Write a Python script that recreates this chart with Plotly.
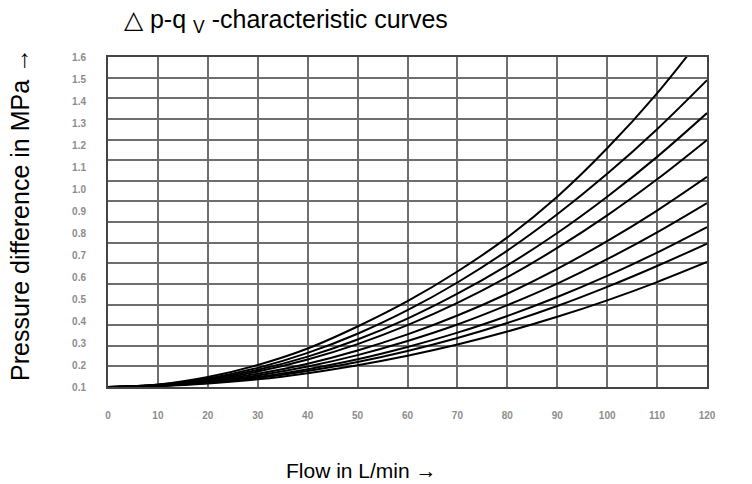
import plotly.graph_objects as go

# Flow in L/min
flow = [0, 10, 20, 30, 40, 50, 60, 70, 80, 90, 100, 110, 120]

# Pressure difference in MPa (curve label -> values)
curve_9 = [0.10, 0.111, 0.145, 0.200, 0.275, 0.375, 0.490, 0.625, 0.780, 0.965, 1.185, 1.435, 1.720]
curve_8 = [0.10, 0.110, 0.139, 0.187, 0.255, 0.342, 0.449, 0.575, 0.720, 0.885, 1.069, 1.272, 1.495]
curve_7 = [0.10, 0.109, 0.135, 0.178, 0.238, 0.316, 0.411, 0.524, 0.653, 0.800, 0.965, 1.146, 1.345]
curve_6 = [0.10, 0.108, 0.131, 0.170, 0.225, 0.295, 0.381, 0.482, 0.599, 0.732, 0.880, 1.044, 1.223]
curve_5 = [0.10, 0.107, 0.127, 0.160, 0.206, 0.266, 0.339, 0.425, 0.524, 0.637, 0.763, 0.902, 1.055]
curve_4 = [0.10, 0.106, 0.123, 0.152, 0.193, 0.245, 0.309, 0.384, 0.472, 0.570, 0.681, 0.803, 0.936]
curve_3 = [0.10, 0.105, 0.120, 0.145, 0.181, 0.226, 0.282, 0.347, 0.423, 0.509, 0.605, 0.711, 0.827]
curve_1 = [0.10, 0.105, 0.118, 0.141, 0.173, 0.214, 0.264, 0.323, 0.391, 0.468, 0.555, 0.650, 0.752]
curve_2 = [0.10, 0.104, 0.116, 0.135, 0.163, 0.199, 0.242, 0.293, 0.352, 0.419, 0.494, 0.577, 0.668]

curves = [curve_9, curve_8, curve_7, curve_6, curve_5, curve_4, curve_3, curve_1, curve_2]
curve_labels = ["9", "8", "7", "6", "5", "4", "3", "1", "2"]
label_pressure = [1.655, 1.505, 1.414, 1.305, 1.095, 0.995, 0.895, 0.782, 0.686]

x_ticks = [0, 10, 20, 30, 40, 50, 60, 70, 80, 90, 100, 110, 120]
x_tick_text = ["0", "10", "20", "30", "40", "50", "60", "70", "80", "90", "100", "110", "120"]
y_ticks = [0.1, 0.2, 0.3, 0.4, 0.5, 0.6, 0.7, 0.8, 0.9, 1.0, 1.1, 1.2, 1.3, 1.4, 1.5, 1.6]
y_tick_text = ["0.1", "0.2", "0.3", "0.4", "0.5", "0.6", "0.7", "0.8", "0.9", "1.0",
               "1.1", "1.2", "1.3", "1.4", "1.5", "1.6"]

FONT = "Liberation Sans, Arial, sans-serif"
GRID = "#6e6e6e"
TICK_FONT = dict(family="Liberation Sans, Arial, sans-serif", size=10, color="#8c8c8c",
                 weight="bold")

fig = go.Figure()
for name, vals in zip(curve_labels, curves):
    fig.add_trace(go.Scatter(x=flow, y=vals, mode="lines", name=name,
                             line=dict(color="black", width=2, shape="spline", smoothing=1),
                             showlegend=False, hoverinfo="skip"))

# invisible trace to activate the grid-only overlay axis
fig.add_trace(go.Scatter(x=[0], y=[0], yaxis="y2", mode="markers",
                         marker=dict(opacity=0), showlegend=False, hoverinfo="skip"))

for lab, yp in zip(curve_labels, label_pressure):
    fig.add_annotation(x=124.2, y=yp, xref="x", yref="y", text=lab, showarrow=False,
                       font=TICK_FONT)

fig.add_annotation(xref="paper", yref="paper", x=(122 - 108) / 599, y=(387 - 21) / 330,
                   xanchor="left", yanchor="middle", showarrow=False,
                   text="△ p-q <sub>V</sub> -characteristic curves",
                   font=dict(family=FONT, size=25, color="black"))
fig.add_annotation(xref="paper", yref="paper", x=(20 - 108) / 599, y=(387 - 215) / 330,
                   textangle=-90, showarrow=False, xanchor="center", yanchor="middle",
                   text="Pressure difference in MPa →",
                   font=dict(family=FONT, size=25, color="black"))
fig.add_annotation(xref="paper", yref="paper", x=(361 - 108) / 599, y=-(470 - 387) / 330,
                   showarrow=False, xanchor="center", yanchor="middle",
                   text="Flow in L/min →",
                   font=dict(family=FONT, size=21, color="black"))

fig.update_layout(
    width=752, height=484,
    margin=dict(l=108, r=45, t=57, b=97),
    paper_bgcolor="white", plot_bgcolor="white",
    xaxis=dict(range=[0, 120], tickvals=x_ticks, ticktext=x_tick_text,
               showgrid=True, gridcolor=GRID, gridwidth=2,
               showline=True, linecolor="#444444", linewidth=2, mirror=True,
               ticks="", ticklabelstandoff=18, tickfont=TICK_FONT, zeroline=False),
    yaxis=dict(range=[0.1, 1.6], tickvals=y_ticks, ticktext=y_tick_text,
               showgrid=False, showline=True, linecolor="#444444", linewidth=2, mirror=True,
               ticks="", ticklabelstandoff=18, tickfont=TICK_FONT, zeroline=False),
    yaxis2=dict(range=[0, 16], dtick=1, overlaying="y", side="right",
                showgrid=True, gridcolor=GRID, gridwidth=2, showticklabels=False,
                zeroline=False, showline=False),
)

fig.write_html("out.html")
